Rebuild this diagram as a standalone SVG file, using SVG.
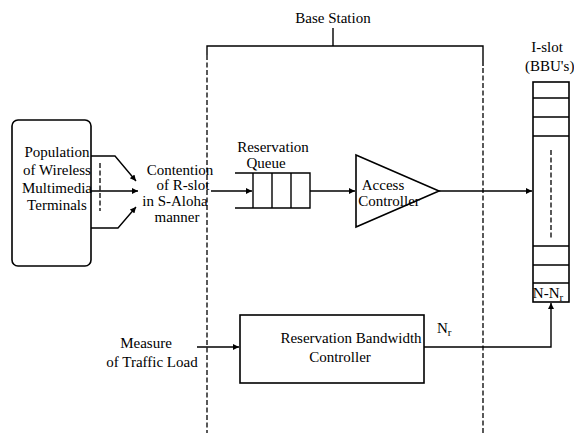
<svg xmlns="http://www.w3.org/2000/svg" width="574" height="433" viewBox="0 0 574 433">
  <defs>
    <marker id="arr" viewBox="0 0 10 10" refX="10" refY="5" markerWidth="8" markerHeight="6" markerUnits="userSpaceOnUse" orient="auto">
      <path d="M0,0 L10,5 L0,10 z" fill="#000"/>
    </marker>
    <style>
      text { font-family: "Liberation Serif", "Times New Roman", serif; font-size: 15px; fill: #000; }
      .c { text-anchor: middle; }
      .ln { fill: none; stroke: #000; stroke-width: 1.4; }
      .bx { fill: #fff; stroke: #000; stroke-width: 1.6; }
      .dash { fill: none; stroke: #000; stroke-width: 1.3; stroke-dasharray: 5 2.5; }
      .conn { fill: none; stroke: #000; stroke-width: 1.4; marker-end: url(#arr); }
    </style>
  </defs>
  <rect width="574" height="433" fill="#fff"/>

  <!-- Base station boundary -->
  <g id="base-station">
    <text class="c" x="333" y="23">Base Station</text>
    <path class="ln" d="M333,28 V46 M207,55 V46 H483 V66"/>
    <path class="dash" d="M207,55 V433 M483,68 V433"/>
  </g>

  <!-- Terminal population -->
  <g id="terminals">
    <rect class="bx" x="12" y="120" width="79" height="146" rx="6"/>
    <text class="c" x="57" y="157">Population</text>
    <text class="c" x="57" y="175">of Wireless</text>
    <text class="c" x="57" y="193">Multimedia</text>
    <text class="c" x="57" y="210">Terminals</text>
    <path class="dash" d="M100,163 V211"/>
  </g>

  <g id="contention">
    <text class="c" x="180" y="175">Contention</text>
    <text class="c" x="183" y="190">of R-slot</text>
    <text class="c" x="175" y="206">in S-Aloha</text>
    <text class="c" x="177" y="222">manner</text>
  </g>

  <!-- Reservation queue -->
  <g id="reservation-queue">
    <text class="c" x="273" y="152" font-size="14.5">Reservation</text>
    <text class="c" x="266" y="168" font-size="14.5">Queue</text>
    <path class="ln" d="M235,173 H310 V208 H235 M253,173 V208 M272,173 V208 M291,173 V208" stroke-width="1.8"/>
  </g>

  <!-- Access controller -->
  <g id="access-controller">
    <path class="bx" d="M356,155 L439,191 L356,227 Z" fill="none"/>
    <text class="c" x="383" y="190">Access</text>
    <text class="c" x="389" y="206">Controller</text>
  </g>

  <!-- I-slot frame column -->
  <g id="i-slot">
    <text class="c" x="547" y="52">I-slot</text>
    <text x="525" y="71" font-size="14">(BBU's)</text>
    <rect class="bx" x="533" y="82" width="36" height="220"/>
    <path class="ln" d="M533,98 H569 M533,117 H569 M533,136 H569 M533,246 H569 M533,265 H569 M533,283 H569"/>
    <path class="dash" d="M551,150 V240"/>
    <text class="c" x="548" y="298">N-N<tspan font-size="11" dy="3">r</tspan></text>
  </g>

  <!-- Reservation bandwidth controller -->
  <g id="rb-controller">
    <rect class="bx" x="240" y="315" width="184" height="68"/>
    <text class="c" x="351" y="343">Reservation Bandwidth</text>
    <text class="c" x="340" y="362">Controller</text>
  </g>

  <g id="traffic-load">
    <text class="c" x="146" y="348">Measure</text>
    <text class="c" x="152" y="367">of Traffic Load</text>
  </g>

  <!-- Connectors -->
  <g id="connectors">
    <path class="conn" d="M91,156 H115 L136,181"/>
    <path class="conn" d="M91,191 H138"/>
    <path class="conn" d="M91,228 H118 L136,207"/>
    <path class="conn" d="M211,191 H252"/>
    <path class="conn" d="M310,191 H355"/>
    <path class="conn" d="M439,191 H532"/>
    <path class="conn" d="M197,347 H239"/>
    <path class="conn" d="M424,347 H551 V303"/>
    <text x="437" y="333">N<tspan font-size="11" dy="3">r</tspan></text>
  </g>
</svg>
